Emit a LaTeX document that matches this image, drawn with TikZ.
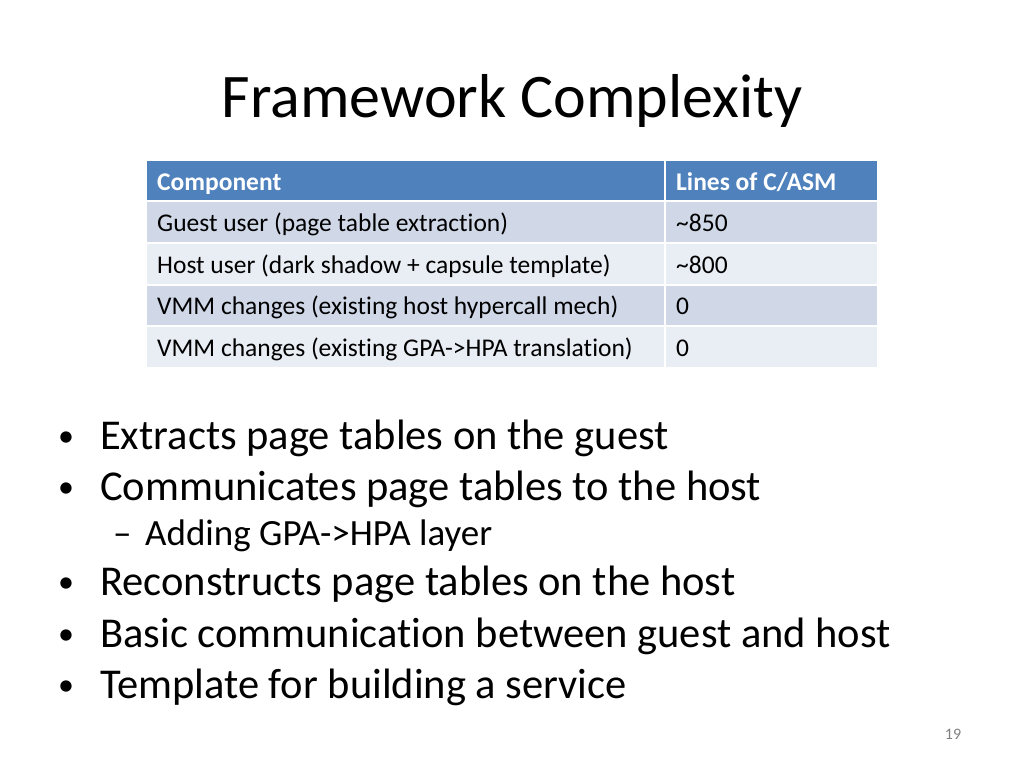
\documentclass[tikz,border=0pt]{standalone}
\usepackage{fontspec}
\setmainfont[Ligatures={NoCommon,NoRare,NoDiscretionary}]{Carlito}
\definecolor{hdr}{HTML}{4F81BD}
\definecolor{rowa}{HTML}{D0D8E8}
\definecolor{rowb}{HTML}{E9EDF4}
\begin{document}
\begin{tikzpicture}[x=1pt,y=-1pt,
  ctext/.style={anchor=base west,font=\fontsize{25.5}{28}\selectfont,inner sep=0pt},
  bul/.style={anchor=base west,font=\fontsize{42.5}{46}\selectfont,inner sep=0pt},
  dot/.style={anchor=base west,font=\fontsize{32}{36}\selectfont,inner sep=0pt},
  sub/.style={anchor=base west,font=\fontsize{37}{40}\selectfont,inner sep=0pt}]
\useasboundingbox (0,0) rectangle (1024,768);
\fill[white] (0,0) rectangle (1024,768);
\node[anchor=base,font=\fontsize{62}{70}\selectfont,inner sep=0pt] (title) at (512,117) {Framework Complexity};
% table
\fill[hdr] (147,161) rectangle (877,200);
\fill[rowa] (147,202) rectangle (877,242);
\fill[rowb] (147,244) rectangle (877,284);
\fill[rowa] (147,286) rectangle (877,325);
\fill[rowb] (147,327) rectangle (877,367);
\draw[white,line width=2pt] (665,161) -- (665,367);
\node[ctext,text=white,font=\fontsize{25.5}{28}\selectfont\bfseries] (h1) at (157,190) {Component};
\node[ctext,text=white,font=\fontsize{25.5}{28}\selectfont\bfseries] (h2) at (676,190) {Lines of C/ASM};
\node[ctext] (a1) at (157,231) {Guest user (page table extraction)};
\node[ctext] (a2) at (676,231) {\textasciitilde 850};
\node[ctext] (b1) at (157,273) {Host user (dark shadow + capsule template)};
\node[ctext] (b2) at (676,273) {\textasciitilde 800};
\node[ctext] (c1) at (157,314) {VMM changes (existing host hypercall mech)};
\node[ctext] (c2) at (676,314) {0};
\node[ctext] (d1) at (157,356) {VMM changes (existing GPA->HPA translation)};
\node[ctext] (d2) at (676,356) {0};
% bullets
\foreach \y/\t [count=\i] in {449/Extracts page tables on the guest,500/Communicates page tables to the host,595/Reconstructs page tables on the host,647/Basic communication between guest and host,698/Template for building a service}{
  \node[dot] (d\i) at (58,\y-3) {•};
  \node[bul] (t\i) at (100,\y) {\t};
}
\node[sub] (sd) at (113,545) {–};
\node[sub] (st) at (145,545) {Adding GPA->HPA layer};
\node[anchor=base,font=\fontsize{16}{18}\selectfont,text=gray,inner sep=0pt] (pn) at (953,739) {19};
\end{tikzpicture}
\end{document}
